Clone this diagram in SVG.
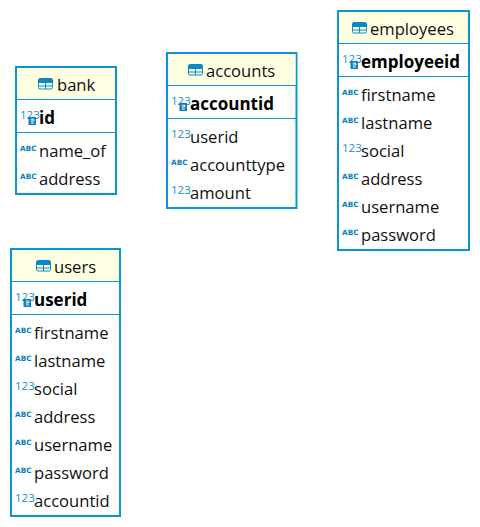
<svg xmlns="http://www.w3.org/2000/svg" width="480" height="527" viewBox="0 0 480 527">
<style>
text{font-family:"Open Sans","Noto Sans","Liberation Sans",sans-serif;fill:#101010}
.box{fill:#fff;stroke:#0a94d0;stroke-width:2}
.head{fill:#ffffe2}
.sep{stroke:#0a94d0;stroke-width:1}
.t{font-size:16.6px}
.k{font-size:17px;font-weight:700;fill:#000}
.n{font-size:11.5px;fill:#1790cc}
.a{font-family:"DejaVu Sans",sans-serif;font-size:7.3px;font-weight:700;fill:#0d80bd}
</style>
<defs>
<g id="tbl"><rect x=".5" y=".5" width="14" height="10.5" rx="1.5" fill="#ffffe2" stroke="#0a8ac6"/><rect x="1" y="1" width="13" height="4" fill="#0a8ac6"/><path d="M1 8H14M7.5 5V11" stroke="#0a8ac6" fill="none"/></g>
<g id="key"><text class="n" x="0" y="10">123</text><rect x="8.500" y="8" width="7.500" height="8" fill="#0d80bd"/><path d="M10.800 10.200h3v1.800h-3M10.800 14h3" stroke="#fff" fill="none"/></g>
<g id="abc"><text class="a" x="0" y="8">ABC</text></g>
<g id="num"><text class="n" x="0" y="9">123</text></g>
</defs>
<g id="connectors"/>
<g id="bank">
<rect class="box" x="16" y="67" width="100" height="127"/><rect class="head" x="17" y="68" width="98" height="31"/>
<path class="sep" d="M17 99.500H115M17 132.500H115"/>
<use href="#tbl" x="38" y="78"/><text class="t" x="57" y="91">bank</text>
<use href="#key" x="20" y="109"/><text class="k" x="39" y="124">id</text>
<use href="#abc" x="20" y="143"/><text class="t" x="39" y="157">name_of</text>
<use href="#abc" x="20" y="171"/><text class="t" x="39" y="185">address</text>
</g>
<g id="accounts">
<rect class="box" x="167" y="53" width="129.500" height="155"/><rect class="head" x="168" y="54" width="127.500" height="31"/>
<path class="sep" d="M168 85.500H296M168 118.500H296"/>
<use href="#tbl" x="188" y="64"/><text class="t" x="206" y="77">accounts</text>
<use href="#key" x="171" y="95"/><text class="k" x="190" y="110">accountid</text>
<use href="#num" x="171" y="129"/><text class="t" x="190" y="143">userid</text>
<use href="#abc" x="171" y="157"/><text class="t" x="190" y="171">accounttype</text>
<use href="#num" x="171" y="185"/><text class="t" x="190" y="199">amount</text>
</g>
<g id="employees">
<rect class="box" x="338" y="11" width="131" height="239"/><rect class="head" x="339" y="12" width="129" height="31"/>
<path class="sep" d="M339 43.500H468M339 76.500H468"/>
<use href="#tbl" x="352" y="22"/><text class="t" x="370" y="35">employees</text>
<use href="#key" x="342" y="53"/><text class="k" x="361" y="68">employeeid</text>
<use href="#abc" x="342" y="87"/><text class="t" x="361" y="101">firstname</text>
<use href="#abc" x="342" y="115"/><text class="t" x="361" y="129">lastname</text>
<use href="#num" x="342" y="143"/><text class="t" x="361" y="157">social</text>
<use href="#abc" x="342" y="171"/><text class="t" x="361" y="185">address</text>
<use href="#abc" x="342" y="199"/><text class="t" x="361" y="213">username</text>
<use href="#abc" x="342" y="227"/><text class="t" x="361" y="241">password</text>
</g>
<g id="users">
<rect class="box" x="11" y="249" width="109" height="267"/><rect class="head" x="12" y="250" width="107" height="31"/>
<path class="sep" d="M12 281.500H119M12 314.500H119"/>
<use href="#tbl" x="36" y="260"/><text class="t" x="54" y="273">users</text>
<use href="#key" x="15" y="291"/><text class="k" x="34" y="306">userid</text>
<use href="#abc" x="15" y="325"/><text class="t" x="34" y="339">firstname</text>
<use href="#abc" x="15" y="353"/><text class="t" x="34" y="367">lastname</text>
<use href="#num" x="15" y="381"/><text class="t" x="34" y="395">social</text>
<use href="#abc" x="15" y="409"/><text class="t" x="34" y="423">address</text>
<use href="#abc" x="15" y="437"/><text class="t" x="34" y="451">username</text>
<use href="#abc" x="15" y="465"/><text class="t" x="34" y="479">password</text>
<use href="#num" x="15" y="493"/><text class="t" x="34" y="507">accountid</text>
</g>
</svg>
